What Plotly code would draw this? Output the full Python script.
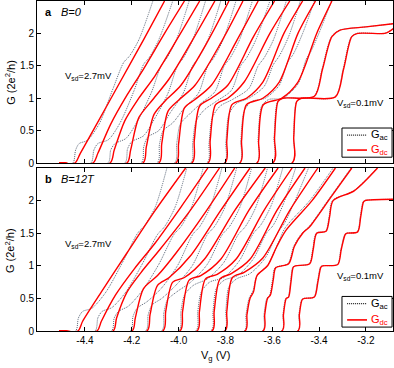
import plotly.graph_objects as go

# ---------------- axis data ----------------
X_TICKS = [-4.4, -4.2, -4.0, -3.8, -3.6, -3.4, -3.2]
X_TICK_LABELS = ["-4.4", "-4.2", "-4.0", "-3.8", "-3.6", "-3.4", "-3.2"]
Y_TICKS = [0, 0.5, 1, 1.5, 2]
Y_TICK_LABELS = ["0", "0.5", "1", "1.5", "2"]

# ---------------- panel a (B=0): G_dc curves (Vg knots, G knots) ----------------
DC_A_V = [
    [-4.51, -4.443, -4.42, -4.35, -4.25, -4.15, -4.06],
    [-4.51, -4.366, -4.345, -4.29, -4.22, -4.15, -4.06, -3.975],
    [-4.51, -4.293, -4.275, -4.23, -4.17, -4.10, -4.00, -3.91],
    [-4.51, -4.221, -4.205, -4.17, -4.11, -4.04, -3.94, -3.845],
    [-4.51, -4.152, -4.138, -4.105, -4.06, -3.99, -3.88, -3.785],
    [-4.51, -4.084, -4.072, -4.045, -4.00, -3.93, -3.82, -3.725],
    [-4.51, -4.011, -4.0, -3.975, -3.93, -3.86, -3.75, -3.66],
    [-4.51, -3.943, -3.933, -3.91, -3.86, -3.79, -3.68, -3.59],
    [-4.51, -3.874, -3.865, -3.842, -3.79, -3.72, -3.61, -3.525],
    [-4.51, -3.802, -3.794, -3.772, -3.71, -3.64, -3.55, -3.47],
    [-4.51, -3.738, -3.731, -3.71, -3.64, -3.57, -3.49, -3.415],
    [-4.51, -3.665, -3.658, -3.638, -3.56, -3.49, -3.41, -3.345],
    [-4.51, -3.597, -3.59, -3.575, -3.555, -3.42, -3.385, -3.345, -3.31, -3.20, -3.08],
    [-4.51, -3.515, -3.508, -3.495, -3.475, -3.33, -3.295, -3.26, -3.235, -3.12, -3.10, -3.08],
]
DC_A_G = [
    [0, 0, 0.15, 0.6, 1.25, 1.9, 2.5],
    [0, 0, 0.15, 0.6, 1.05, 1.45, 2.0, 2.5],
    [0, 0, 0.2, 0.65, 1.0, 1.35, 1.95, 2.5],
    [0, 0, 0.2, 0.7, 0.98, 1.3, 1.9, 2.5],
    [0, 0, 0.25, 0.75, 0.95, 1.2, 1.85, 2.5],
    [0, 0, 0.3, 0.8, 0.97, 1.2, 1.85, 2.5],
    [0, 0, 0.3, 0.85, 0.98, 1.2, 1.9, 2.5],
    [0, 0, 0.35, 0.88, 1.0, 1.2, 1.95, 2.5],
    [0, 0, 0.35, 0.9, 1.0, 1.25, 2.0, 2.5],
    [0, 0, 0.35, 0.9, 1.0, 1.25, 2.0, 2.5],
    [0, 0, 0.35, 0.9, 1.0, 1.25, 2.0, 2.5],
    [0, 0, 0.35, 0.9, 1.0, 1.25, 2.0, 2.5],
    [0, 0, 0.4, 0.95, 1.0, 1.03, 1.45, 1.95, 2.05, 2.1, 2.15],
    [0, 0, 0.4, 0.95, 1.0, 1.02, 1.45, 1.95, 2.0, 2.0, 2.03, 2.08],
]

# ---------------- panel a (B=0): G_ac curves ----------------
AC_A_V = [
    [-4.51, -4.452, -4.44, -4.425, -4.39, -4.34, -4.28, -4.235, -4.21, -4.17, -4.11],
    [-4.51, -4.375, -4.362, -4.345, -4.30, -4.25, -4.19, -4.15, -4.125, -4.085, -4.025],
    [-4.51, -4.302, -4.29, -4.272, -4.225, -4.175, -4.115, -4.075, -4.05, -4.01, -3.955],
    [-4.51, -4.23, -4.218, -4.2, -4.15, -4.10, -4.045, -4.005, -3.98, -3.94, -3.885],
    [-4.51, -4.16, -4.149, -4.132, -4.085, -4.035, -3.98, -3.94, -3.915, -3.875, -3.82],
    [-4.51, -4.092, -4.082, -4.066, -4.025, -3.975, -3.915, -3.875, -3.85, -3.81, -3.755],
    [-4.51, -4.018, -4.008, -3.993, -3.955, -3.905, -3.845, -3.805, -3.78, -3.74, -3.685],
    [-4.51, -3.949, -3.94, -3.925, -3.89, -3.84, -3.775, -3.735, -3.71, -3.67, -3.61],
    [-4.51, -3.879, -3.87, -3.856, -3.822, -3.77, -3.70, -3.66, -3.635, -3.595, -3.54],
    [-4.51, -3.806, -3.798, -3.785, -3.752, -3.70, -3.635, -3.595, -3.57, -3.53, -3.48],
    [-4.51, -3.741, -3.734, -3.72, -3.688, -3.63, -3.57, -3.535, -3.51, -3.47, -3.42],
    [-4.51, -3.667, -3.66, -3.645, -3.615, -3.555, -3.49, -3.455, -3.435, -3.395, -3.347],
    [-4.51, -3.599, -3.592, -3.577, -3.557, -3.422, -3.387, -3.347, -3.312, -3.20, -3.08],
    [-4.51, -3.516, -3.509, -3.496, -3.476, -3.332, -3.297, -3.262, -3.237, -3.12, -3.10, -3.08],
]
AC_A_G = [
    [0, 0, 0.2, 0.3, 0.35, 0.6, 1.15, 1.55, 1.65, 1.9, 2.5],
    [0, 0, 0.2, 0.3, 0.36, 0.62, 1.12, 1.52, 1.63, 1.9, 2.5],
    [0, 0, 0.2, 0.3, 0.38, 0.65, 1.1, 1.5, 1.62, 1.9, 2.5],
    [0, 0, 0.22, 0.33, 0.42, 0.7, 1.08, 1.5, 1.62, 1.9, 2.5],
    [0, 0, 0.25, 0.4, 0.5, 0.78, 1.08, 1.5, 1.62, 1.9, 2.5],
    [0, 0, 0.28, 0.5, 0.62, 0.85, 1.08, 1.5, 1.62, 1.9, 2.5],
    [0, 0, 0.3, 0.6, 0.75, 0.92, 1.1, 1.5, 1.62, 1.9, 2.5],
    [0, 0, 0.3, 0.65, 0.82, 0.95, 1.12, 1.5, 1.62, 1.9, 2.5],
    [0, 0, 0.3, 0.7, 0.88, 0.98, 1.15, 1.5, 1.62, 1.9, 2.5],
    [0, 0, 0.32, 0.75, 0.92, 1.0, 1.18, 1.52, 1.65, 1.95, 2.5],
    [0, 0, 0.35, 0.8, 0.95, 1.0, 1.2, 1.55, 1.68, 2.0, 2.5],
    [0, 0, 0.4, 0.88, 0.98, 1.0, 1.22, 1.6, 1.72, 2.05, 2.5],
    [0, 0, 0.4, 0.95, 1.0, 1.03, 1.45, 1.95, 2.05, 2.1, 2.15],
    [0, 0, 0.4, 0.95, 1.0, 1.02, 1.45, 1.95, 2.0, 2.0, 2.03, 2.08],
]

# ---------------- panel b (B=12T): G_dc curves ----------------
DC_B_V = [
    [-4.51, -4.43, -4.41, -4.33, -4.22, -4.10, -3.97],
    [-4.51, -4.349, -4.33, -4.27, -4.19, -4.10, -3.99, -3.875],
    [-4.51, -4.28, -4.265, -4.22, -4.16, -4.08, -3.95, -3.825],
    [-4.51, -4.199, -4.185, -4.15, -4.09, -4.01, -3.88, -3.76],
    [-4.51, -4.135, -4.122, -4.09, -4.04, -3.95, -3.82, -3.695],
    [-4.51, -4.067, -4.055, -4.025, -3.975, -3.89, -3.76, -3.63],
    [-4.51, -3.994, -3.983, -3.955, -3.905, -3.82, -3.70, -3.575],
    [-4.51, -3.921, -3.911, -3.885, -3.835, -3.755, -3.635, -3.515],
    [-4.51, -3.857, -3.848, -3.823, -3.775, -3.695, -3.58, -3.46],
    [-4.51, -3.802, -3.794, -3.77, -3.72, -3.64, -3.525, -3.405],
    [-4.51, -3.716, -3.708, -3.695, -3.68, -3.665, -3.62, -3.58, -3.54, -3.43, -3.33],
    [-4.51, -3.639, -3.632, -3.62, -3.608, -3.595, -3.585, -3.53, -3.505, -3.47, -3.44, -3.35, -3.26],
    [-4.51, -3.558, -3.552, -3.54, -3.53, -3.52, -3.51, -3.50, -3.44, -3.425, -3.41, -3.37, -3.355, -3.34, -3.25, -3.15],
    [-4.51, -3.490, -3.484, -3.472, -3.462, -3.42, -3.405, -3.392, -3.385, -3.32, -3.305, -3.288, -3.28, -3.235, -3.222, -3.21, -3.203, -3.08],
]
DC_B_G = [
    [0, 0, 0.15, 0.6, 1.2, 1.85, 2.5],
    [0, 0, 0.15, 0.55, 0.95, 1.35, 1.9, 2.5],
    [0, 0, 0.2, 0.6, 0.9, 1.25, 1.85, 2.5],
    [0, 0, 0.2, 0.65, 0.85, 1.2, 1.85, 2.5],
    [0, 0, 0.25, 0.7, 0.82, 1.15, 1.85, 2.5],
    [0, 0, 0.3, 0.75, 0.82, 1.1, 1.85, 2.5],
    [0, 0, 0.3, 0.78, 0.85, 1.1, 1.85, 2.5],
    [0, 0, 0.3, 0.8, 0.87, 1.1, 1.85, 2.5],
    [0, 0, 0.3, 0.8, 0.88, 1.1, 1.85, 2.5],
    [0, 0, 0.3, 0.82, 0.9, 1.12, 1.85, 2.5],
    [0, 0, 0.25, 0.5, 0.6, 0.85, 1.0, 1.3, 1.55, 2.0, 2.5],
    [0, 0, 0.25, 0.5, 0.55, 0.8, 0.97, 1.03, 1.3, 1.5, 1.6, 2.05, 2.5],
    [0, 0, 0.25, 0.5, 0.52, 0.75, 0.98, 1.0, 1.03, 1.25, 1.5, 1.53, 1.75, 2.0, 2.15, 2.5],
    [0, 0, 0.25, 0.48, 0.5, 0.52, 0.75, 0.98, 1.0, 1.02, 1.25, 1.48, 1.5, 1.52, 1.75, 1.98, 2.0, 2.02],
]

# ---------------- panel b (B=12T): G_ac curves ----------------
AC_B_V = [
    [-4.51, -4.44, -4.428, -4.41, -4.37, -4.31, -4.24, -4.175, -4.145, -4.10, -4.05],
    [-4.51, -4.357, -4.345, -4.327, -4.285, -4.225, -4.155, -4.09, -4.06, -4.015, -3.965],
    [-4.51, -4.287, -4.275, -4.257, -4.215, -4.155, -4.085, -4.02, -3.99, -3.945, -3.895],
    [-4.51, -4.206, -4.195, -4.177, -4.135, -4.075, -4.005, -3.94, -3.91, -3.865, -3.815],
    [-4.51, -4.141, -4.13, -4.113, -4.072, -4.012, -3.942, -3.877, -3.847, -3.802, -3.752],
    [-4.51, -4.073, -4.063, -4.047, -4.008, -3.948, -3.878, -3.813, -3.783, -3.738, -3.688],
    [-4.51, -4.0, -3.99, -3.975, -3.937, -3.877, -3.807, -3.745, -3.715, -3.67, -3.62],
    [-4.51, -3.927, -3.918, -3.903, -3.867, -3.807, -3.74, -3.68, -3.65, -3.605, -3.555],
    [-4.51, -3.862, -3.853, -3.839, -3.805, -3.748, -3.682, -3.625, -3.596, -3.552, -3.50],
    [-4.51, -3.806, -3.798, -3.785, -3.752, -3.695, -3.63, -3.575, -3.548, -3.505, -3.445],
    [-4.51, -3.72, -3.712, -3.699, -3.682, -3.665, -3.622, -3.58, -3.545, -3.44, -3.34],
    [-4.51, -3.642, -3.635, -3.623, -3.611, -3.598, -3.588, -3.533, -3.508, -3.473, -3.443, -3.353, -3.263],
    [-4.51, -3.56, -3.554, -3.542, -3.532, -3.522, -3.512, -3.502, -3.442, -3.427, -3.412, -3.372, -3.357, -3.342, -3.252, -3.152],
    [-4.51, -3.492, -3.486, -3.474, -3.464, -3.422, -3.407, -3.394, -3.387, -3.322, -3.307, -3.29, -3.282, -3.237, -3.224, -3.212, -3.205, -3.08],
]
AC_B_G = [
    [0, 0, 0.2, 0.3, 0.35, 0.6, 1.05, 1.5, 1.62, 1.9, 2.5],
    [0, 0, 0.2, 0.3, 0.36, 0.6, 1.03, 1.48, 1.6, 1.9, 2.5],
    [0, 0, 0.2, 0.3, 0.38, 0.62, 1.02, 1.48, 1.6, 1.9, 2.5],
    [0, 0, 0.22, 0.35, 0.45, 0.65, 1.0, 1.48, 1.6, 1.9, 2.5],
    [0, 0, 0.25, 0.4, 0.5, 0.7, 1.0, 1.48, 1.6, 1.9, 2.5],
    [0, 0, 0.28, 0.48, 0.6, 0.75, 1.02, 1.48, 1.6, 1.9, 2.5],
    [0, 0, 0.3, 0.55, 0.7, 0.8, 1.05, 1.48, 1.6, 1.9, 2.5],
    [0, 0, 0.3, 0.6, 0.75, 0.82, 1.08, 1.5, 1.62, 1.92, 2.5],
    [0, 0, 0.3, 0.65, 0.78, 0.85, 1.1, 1.5, 1.62, 1.95, 2.5],
    [0, 0, 0.32, 0.68, 0.8, 0.88, 1.12, 1.52, 1.65, 1.98, 2.5],
    [0, 0, 0.25, 0.5, 0.62, 0.85, 1.0, 1.3, 1.58, 2.0, 2.5],
    [0, 0, 0.25, 0.5, 0.55, 0.8, 0.97, 1.03, 1.3, 1.5, 1.6, 2.05, 2.5],
    [0, 0, 0.25, 0.5, 0.52, 0.75, 0.98, 1.0, 1.03, 1.25, 1.5, 1.53, 1.75, 2.0, 2.15, 2.5],
    [0, 0, 0.25, 0.48, 0.5, 0.52, 0.75, 0.98, 1.0, 1.02, 1.25, 1.48, 1.5, 1.52, 1.75, 1.98, 2.0, 2.02],
]

# ---------------- styling ----------------
RED = "#ff0000"
AC_COLOR = "#5a6678"
FONT = "Liberation Sans, Arial, sans-serif"
X_RANGE = [-4.605, -3.084]
Y_RANGE = [0, 2.5]

fig = go.Figure()


def add_panel(ac_v, ac_g, dc_v, dc_g, xa, ya):
    for v, g in zip(ac_v, ac_g):
        fig.add_trace(go.Scatter(x=v, y=g, mode="lines", xaxis=xa, yaxis=ya,
                                 line=dict(color=AC_COLOR, width=1, dash="1px,1px",
                                           shape="spline", smoothing=0.8),
                                 showlegend=False, hoverinfo="skip"))
    for v, g in zip(dc_v, dc_g):
        fig.add_trace(go.Scatter(x=v, y=g, mode="lines", xaxis=xa, yaxis=ya,
                                 line=dict(color=RED, width=1.4,
                                           shape="spline", smoothing=0.8),
                                 showlegend=False, hoverinfo="skip"))


add_panel(AC_A_V, AC_A_G, DC_A_V, DC_A_G, "x", "y")
add_panel(AC_B_V, AC_B_G, DC_B_V, DC_B_G, "x2", "y2")

axis_common = dict(showline=True, linecolor="black", linewidth=1, mirror="allticks",
                   ticks="inside", ticklen=4, tickcolor="black", showgrid=False,
                   zeroline=False, tickfont=dict(family=FONT, size=10, color="black"))

fig.update_layout(
    width=394, height=368,
    margin=dict(l=37, r=1, t=1, b=37),
    paper_bgcolor="white", plot_bgcolor="white",
    font=dict(family=FONT, size=10, color="black"),
    showlegend=False,
    xaxis=dict(domain=[0, 1], anchor="y", range=X_RANGE, tickvals=X_TICKS,
               showticklabels=False, **axis_common),
    yaxis=dict(domain=[0.509, 1], anchor="x", range=Y_RANGE, tickvals=Y_TICKS,
               ticktext=Y_TICK_LABELS, **axis_common),
    xaxis2=dict(domain=[0, 1], anchor="y2", range=X_RANGE, tickvals=X_TICKS,
                ticktext=X_TICK_LABELS, **axis_common),
    yaxis2=dict(domain=[0, 0.494], anchor="x2", range=Y_RANGE, tickvals=Y_TICKS,
                ticktext=Y_TICK_LABELS, **axis_common),
)

ann = []
# panel labels
ann.append(dict(text="<b>a</b>", xref="x domain", yref="y domain", x=0.018, y=0.93,
                xanchor="left", yanchor="middle", showarrow=False, font=dict(size=11)))
ann.append(dict(text="<i>B=0</i>", xref="x domain", yref="y domain", x=0.062, y=0.93,
                xanchor="left", yanchor="middle", showarrow=False, font=dict(size=11)))
ann.append(dict(text="<b>b</b>", xref="x2 domain", yref="y2 domain", x=0.018, y=0.93,
                xanchor="left", yanchor="middle", showarrow=False, font=dict(size=11)))
ann.append(dict(text="<i>B=12T</i>", xref="x2 domain", yref="y2 domain", x=0.062, y=0.93,
                xanchor="left", yanchor="middle", showarrow=False, font=dict(size=11)))
# Vsd labels
ann.append(dict(text="V<sub>sd</sub>=2.7mV", xref="x", yref="y", x=-4.494, y=1.35,
                xanchor="left", yanchor="middle", showarrow=False, font=dict(size=9.5)))
ann.append(dict(text="V<sub>sd</sub>=2.7mV", xref="x2", yref="y2", x=-4.494, y=1.33,
                xanchor="left", yanchor="middle", showarrow=False, font=dict(size=9.5)))
ann.append(dict(text="V<sub>sd</sub>=0.1mV", xref="x", yref="y", x=-3.332, y=0.92,
                xanchor="left", yanchor="middle", showarrow=False, font=dict(size=9.5)))
ann.append(dict(text="V<sub>sd</sub>=0.1mV", xref="x2", yref="y2", x=-3.332, y=0.84,
                xanchor="left", yanchor="middle", showarrow=False, font=dict(size=9.5)))
# axis titles
ann.append(dict(text="G (2e<sup>2</sup>/h)", xref="paper", yref="paper", x=-0.076, y=0.755,
                xanchor="center", yanchor="middle",
                textangle=-90, showarrow=False, font=dict(size=11)))
ann.append(dict(text="G (2e<sup>2</sup>/h)", xref="paper", yref="paper", x=-0.076, y=0.245,
                xanchor="center", yanchor="middle",
                textangle=-90, showarrow=False, font=dict(size=11)))
ann.append(dict(text="V<sub>g</sub> (V)", xref="paper", yref="paper", x=0.5, y=-0.076,
                xanchor="center", yanchor="middle", showarrow=False, font=dict(size=11)))

shapes = []
# legends (box + samples)
for xa, ya, y0, y1, yac, ydc in [("x", "y", 0.09, 0.54, 0.43, 0.2),
                                  ("x2", "y2", 0.06, 0.53, 0.42, 0.17)]:
    shapes.append(dict(type="rect", xref=xa, yref=ya, x0=-3.302, x1=-3.088, y0=y0, y1=y1,
                       line=dict(color="black", width=1), fillcolor="white", layer="above"))
    shapes.append(dict(type="line", xref=xa, yref=ya, x0=-3.280, x1=-3.195, y0=yac, y1=yac,
                       line=dict(color="#222222", width=1.2, dash="1px,1px"), layer="above"))
    shapes.append(dict(type="line", xref=xa, yref=ya, x0=-3.280, x1=-3.195, y0=ydc, y1=ydc,
                       line=dict(color=RED, width=1.6), layer="above"))
    ann.append(dict(text="G<sub>ac</sub>", xref=xa, yref=ya, x=-3.185, y=yac,
                    xanchor="left", yanchor="middle", showarrow=False,
                    font=dict(size=11, color="black")))
    ann.append(dict(text="G<sub>dc</sub>", xref=xa, yref=ya, x=-3.185, y=ydc,
                    xanchor="left", yanchor="middle", showarrow=False,
                    font=dict(size=11, color=RED)))

fig.update_layout(annotations=ann, shapes=shapes)
fig.write_html("out.html", config={"displayModeBar": False},
               post_script="document.body.style.margin='0px';")
